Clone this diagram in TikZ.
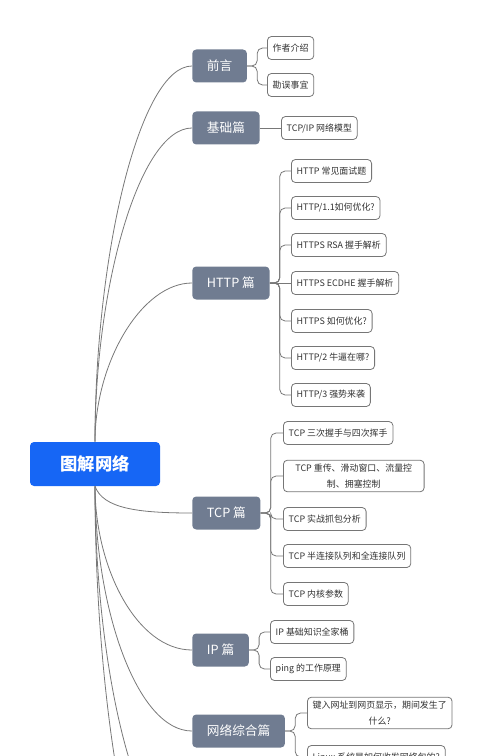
\documentclass[tikz,border=0pt]{standalone}
\usepackage{fontspec}
\setmainfont{Noto Sans CJK SC}
\definecolor{rootblue}{RGB}{22,102,245}
\definecolor{catgray}{RGB}{112,124,145}
\definecolor{linegray}{RGB}{120,120,120}
\definecolor{leafgray}{RGB}{118,118,118}

\begin{document}
\begin{tikzpicture}[x=0.75pt, y=-0.75pt,
  rootnode/.style={fill=rootblue, text=white, rounded corners=3pt, minimum width=97.5pt, minimum height=33pt, font=\fontsize{13}{15}\selectfont\bfseries},
  catnode/.style={anchor=west, fill=catgray, text=white, rounded corners=3pt, minimum height=24.75pt, inner xsep=11pt, font=\fontsize{9.5}{11}\selectfont},
  leafnode/.style={anchor=west, draw=leafgray, line width=0.6pt, fill=white, text=black!80, rounded corners=3pt, minimum height=17.25pt, inner xsep=4pt, font=\fontsize{6.7}{11.5}\selectfont, align=center},
  link/.style={draw=linegray, line width=0.6pt},
  branch/.style={link, rounded corners=4pt}]
  \useasboundingbox (0,0) rectangle (500,756);
  \clip (0,0) rectangle (500,756);

  % root and chapters
  \node[rootnode] (root) at (95,464) {图解网络};
  \node[catnode] (pre) at (192,66) {前言};
  \node[catnode] (base) at (192,128) {基础篇};
  \node[catnode] (http) at (192,283) {HTTP 篇};
  \node[catnode] (tcp) at (192,513) {TCP 篇};
  \node[catnode] (ip) at (192,650) {IP 篇};
  \node[catnode] (net) at (192,731) {网络综合篇};
  \coordinate (next1) at (192,850);
  \coordinate (next2) at (192,950);

  % articles
  \node[leafnode] (pre1) at (267,48) {作者介绍};
  \node[leafnode] (pre2) at (267,85) {勘误事宜};
  \node[leafnode] (base1) at (281,128) {TCP/IP 网络模型};
  \node[leafnode] (http1) at (291,171) {HTTP 常见面试题};
  \node[leafnode] (http2) at (291,208) {HTTP/1.1如何优化?};
  \node[leafnode] (http3) at (291,245) {HTTPS RSA 握手解析};
  \node[leafnode] (http4) at (291,283) {HTTPS ECDHE 握手解析};
  \node[leafnode] (http5) at (291,321) {HTTPS 如何优化?};
  \node[leafnode] (http6) at (291,358) {HTTP/2 牛逼在哪?};
  \node[leafnode] (http7) at (291,395) {HTTP/3 强势来袭};
  \node[leafnode] (tcp1) at (283,433) {TCP 三次握手与四次挥手};
  \node[leafnode, inner ysep=3pt, inner xsep=9pt] (tcp2) at (283,476) {TCP 重传、滑动窗口、流量控\\制、拥塞控制};
  \node[leafnode] (tcp3) at (283,519) {TCP 实战抓包分析};
  \node[leafnode] (tcp4) at (283,556) {TCP 半连接队列和全连接队列};
  \node[leafnode] (tcp5) at (283,594) {TCP 内核参数};
  \node[leafnode] (ip1) at (270,632) {IP 基础知识全家桶};
  \node[leafnode] (ip2) at (270,669) {ping 的工作原理};
  \node[leafnode, inner ysep=3pt] (net1) at (307,713) {键入网址到网页显示，期间发生了\\什么?};
  \node[leafnode] (net2) at (307,757) {Linux 系统是如何收发网络包的?};

  % root to chapters
  \draw[link] (root.north) .. controls +(0,-188) and +(-52,0) .. (pre.west);
  \draw[link] (root.north) .. controls +(0,-157) and +(-52,0) .. (base.west);
  \draw[link] (root.north) .. controls +(0,-80) and +(-50,0) .. (http.west);
  \draw[link] (root.south) .. controls +(8,22) and +(-55,0) .. (tcp.west);
  \draw[link] (root.south) .. controls +(0,82) and +(-55,0) .. (ip.west);
  \draw[link] (root.south) .. controls +(0,122) and +(-55,0) .. (net.west);
  \draw[link] (root.south) .. controls +(0,182) and +(-55,0) .. (next1);
  \draw[link] (root.south) .. controls +(0,232) and +(-55,0) .. (next2);

  % chapters to articles
  \draw[branch] (pre.east) -- ++(10,0) |- (pre1.west);
  \draw[branch] (pre.east) -- ++(10,0) |- (pre2.west);
  \draw[link] (base.east) -- (base1.west);
  \draw[branch] (http.east) -- ++(10,0) |- (http1.west);
  \draw[branch] (http.east) -- ++(10,0) |- (http2.west);
  \draw[branch] (http.east) -- ++(10,0) |- (http3.west);
  \draw[link] (http.east) -- (http4.west);
  \draw[branch] (http.east) -- ++(10,0) |- (http5.west);
  \draw[branch] (http.east) -- ++(10,0) |- (http6.west);
  \draw[branch] (http.east) -- ++(10,0) |- (http7.west);
  \draw[branch] (tcp.east) -- ++(10,0) |- (tcp1.west);
  \draw[branch] (tcp.east) -- ++(10,0) |- (tcp2.west);
  \draw[branch] (tcp.east) -- ++(10,0) |- (tcp3.west);
  \draw[branch] (tcp.east) -- ++(10,0) |- (tcp4.west);
  \draw[branch] (tcp.east) -- ++(10,0) |- (tcp5.west);
  \draw[branch] (ip.east) -- ++(10,0) |- (ip1.west);
  \draw[branch] (ip.east) -- ++(10,0) |- (ip2.west);
  \draw[branch] (net.east) -- ++(10,0) |- (net1.west);
  \draw[branch] (net.east) -- ++(10,0) |- (net2.west);
\end{tikzpicture}
\end{document}
